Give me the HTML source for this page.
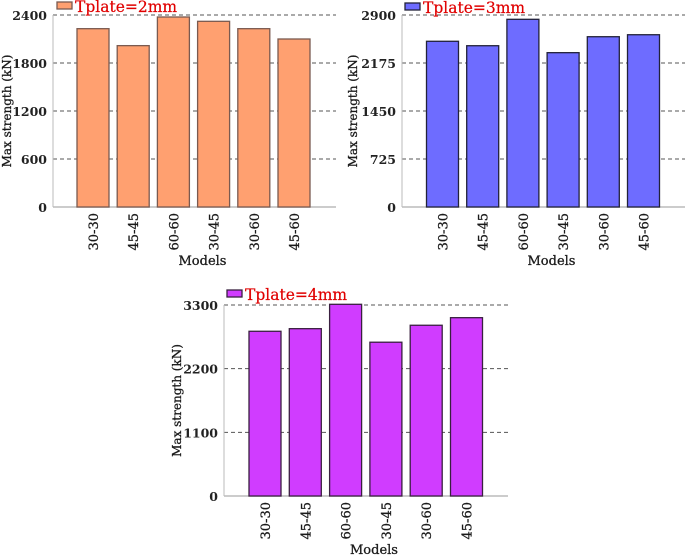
<!DOCTYPE html>
<html><head><meta charset="utf-8"><style>
body{margin:0;background:#fff;}
svg{display:block;font-family:"DejaVu Serif","Liberation Serif",serif;}
</style></head><body>
<svg id="c" width="685" height="555" xmlns="http://www.w3.org/2000/svg">
</svg>
<script>
const categories = ["30-30","45-45","60-60","30-45","30-60","45-60"];
const values2mm = [2229,2017,2375,2321,2229,2100];
const values3mm = [2503,2436,2835,2331,2572,2602];
const values4mm = [2846,2891,3312,2657,2950,3081];
const ticks2mm = [0,600,1200,1800,2400];
const ticks3mm = [0,725,1450,2175,2900];
const ticks4mm = [0,1100,2200,3300];
const legend2mm = "Tplate=2mm", legend3mm = "Tplate=3mm", legend4mm = "Tplate=4mm";

const svg = document.getElementById('c');
const NS = 'http://www.w3.org/2000/svg';
function mk(tag, attrs, parent){const e=document.createElementNS(NS,tag);for(const k in attrs)e.setAttribute(k,attrs[k]);(parent||svg).appendChild(e);return e;}

function chart(cfg, vals, ticks, legend, id){
  const g = mk('g',{});
  
  
  const max = ticks[ticks.length-1];
  const y = v => cfg.base - (v/max)*(cfg.base-cfg.top);
  const x = i => cfg.c0 + i*cfg.step;
  ticks.forEach(t=>{
    if(t>0){const l=mk('line',{x1:cfg.ax,x2:cfg.right,y1:y(t),y2:y(t),stroke:'#555','stroke-dasharray':'4,3','stroke-width':1},g);
      
      }
    const tx=mk('text',{x:cfg.ax-6,y:y(t)+5,'text-anchor':'end','font-size':12.5,'font-weight':'bold',fill:'#222'},g);
    tx.textContent=t;
    
    
  });
  const ya=mk('line',{x1:cfg.ax,x2:cfg.ax,y1:cfg.top,y2:cfg.base,stroke:'#bbb','stroke-width':1},g);
  
  
  const xa=mk('line',{x1:cfg.ax,x2:cfg.right,y1:cfg.base,y2:cfg.base,stroke:'#bbb','stroke-width':1.5},g);
  
  
  vals.forEach((v,i)=>{
    const r=mk('rect',{x:x(i)-16,y:y(v),width:32,height:cfg.base-y(v),fill:cfg.color,stroke:cfg.stroke,'stroke-width':1.3},g);
    
    
    const tl=mk('text',{transform:`translate(${x(i)+5},${cfg.base+6}) rotate(-90)`,'text-anchor':'end','font-size':13,fill:'#1a1a1a','stroke':'#1a1a1a','stroke-width':0.3},g);
    tl.textContent=categories[i];
    
    
  });
  const xt=mk('text',{x:(cfg.ax+cfg.right)/2+8,y:cfg.base+58,'text-anchor':'middle','font-size':13,fill:'#1a1a1a','stroke':'#1a1a1a','stroke-width':0.3},g);
  xt.textContent='Models';
  
  
  const yt=mk('text',{transform:`translate(${cfg.ylx},${(cfg.top+cfg.base)/2}) rotate(-90)`,'text-anchor':'middle','font-size':12,fill:'#1a1a1a','stroke':'#1a1a1a','stroke-width':0.3},g);
  yt.textContent='Max strength (kN)';
  
  
  const ls=mk('rect',{x:cfg.lx,y:cfg.ly,width:15,height:7,fill:cfg.color,stroke:cfg.stroke,'stroke-width':1.3},g);
  
  
  const lt=mk('text',{x:cfg.lx+18,y:cfg.ly+10,'font-size':15.5,fill:'#e00000','stroke':'#e00000','stroke-width':0.2},g);
  lt.textContent=legend;
  
  
}
chart({ax:53,right:336,top:15,base:207,c0:93,step:40.2,color:'#ffa070',stroke:'#7a5a50',ylx:11,lx:57,ly:2},values2mm,ticks2mm,legend2mm,'tplate-2mm');
chart({ax:402,right:685,top:15,base:207,c0:442.5,step:40.2,color:'#6e6cff',stroke:'#22223a',ylx:357,lx:405,ly:3},values3mm,ticks3mm,legend3mm,'tplate-3mm');
chart({ax:224,right:508,top:305,base:496,c0:265,step:40.3,color:'#d03cff',stroke:'#3a2040',ylx:181,lx:227,ly:290},values4mm,ticks4mm,legend4mm,'tplate-4mm');
</script>
</body></html>
